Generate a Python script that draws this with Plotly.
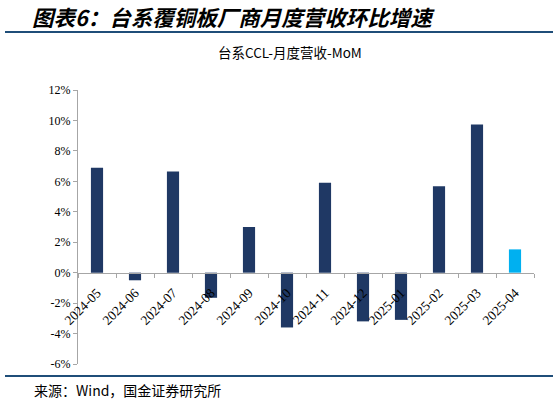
import plotly.graph_objects as go

months = ["2024-05", "2024-06", "2024-07", "2024-08", "2024-09", "2024-10",
          "2024-11", "2024-12", "2025-01", "2025-02", "2025-03", "2025-04"]
mom = [6.9, -0.5, 6.65, -1.65, 3.0, -3.6, 5.9, -3.2, -3.1, 5.68, 9.74, 1.53]
bar_colors = ["#1F3864"] * 11 + ["#00B0F0"]
y_ticks = [-6, -4, -2, 0, 2, 4, 6, 8, 10, 12]
y_labels = [f"{v}%" for v in y_ticks]

title_text = "图表6：台系覆铜板厂商月度营收环比增速"
chart_title = "台系CCL-月度营收-MoM"
source_text = "来源：Wind，国金证券研究所"

W, H = 559, 404
ml, mr, mt, mb = 78, 25, 90, 40
ymin, ymax = -6, 12

fig = go.Figure()
fig.add_trace(go.Bar(x=months, y=mom, marker=dict(color=bar_colors, line=dict(width=0)),
                     width=0.32))

serif = "Liberation Serif, Times New Roman, serif"
cjk = "Noto Sans CJK SC"

def py(pix):
    return (H - mb - pix) / (H - mt - mb)

def px(pix):
    return (pix - ml) / (W - ml - mr)

fig.update_layout(
    width=W, height=H,
    margin=dict(l=ml, r=mr, t=mt, b=mb, autoexpand=False),
    plot_bgcolor="white", paper_bgcolor="white",
    showlegend=False,
    bargap=0.68,
    xaxis=dict(
        type="category",
        anchor="free",
        position=(0 - ymin) / (ymax - ymin),
        automargin=False,
        showline=True, linecolor="#A6A6A6", linewidth=1,
        ticks="outside", ticklen=4, tickcolor="#A6A6A6",
        tickson="boundaries",
        showgrid=False,
        tickangle=-45,
        ticklabelstandoff=6,
        tickfont=dict(family=serif, size=13.5, color="#000000"),
    ),
    yaxis=dict(
        range=[ymin, ymax],
        automargin=False,
        tickvals=y_ticks, ticktext=y_labels,
        showline=True, linecolor="#A6A6A6", linewidth=1,
        ticks="outside", ticklen=4, tickcolor="#A6A6A6",
        showgrid=False, zeroline=False,
        tickfont=dict(family=serif, size=12, color="#000000"),
    ),
)

fig.add_annotation(text=f"<b><i>{title_text}</i></b>", xref="paper", yref="paper",
                   x=px(30), y=py(17), xanchor="left", yanchor="middle",
                   showarrow=False, font=dict(family=cjk, size=21.5, color="#000000"))
fig.add_annotation(text=chart_title, xref="paper", yref="paper",
                   x=px(290), y=py(52), xanchor="center", yanchor="middle",
                   showarrow=False, font=dict(family=cjk, size=13.5, color="#000000"))
fig.add_annotation(text=source_text, xref="paper", yref="paper",
                   x=px(32), y=py(390), xanchor="left", yanchor="middle",
                   showarrow=False, font=dict(family=cjk, size=14, color="#000000"))

fig.add_shape(type="line", xref="paper", yref="paper",
              x0=px(5), x1=px(553), y0=py(32), y1=py(32),
              line=dict(color="#1F4E79", width=2))
fig.add_shape(type="line", xref="paper", yref="paper",
              x0=px(5), x1=px(553), y0=py(376), y1=py(376),
              line=dict(color="#1F4E79", width=2))

fig.write_html("out.html", config={"displayModeBar": False},
               post_script="document.body.style.margin='0';")
